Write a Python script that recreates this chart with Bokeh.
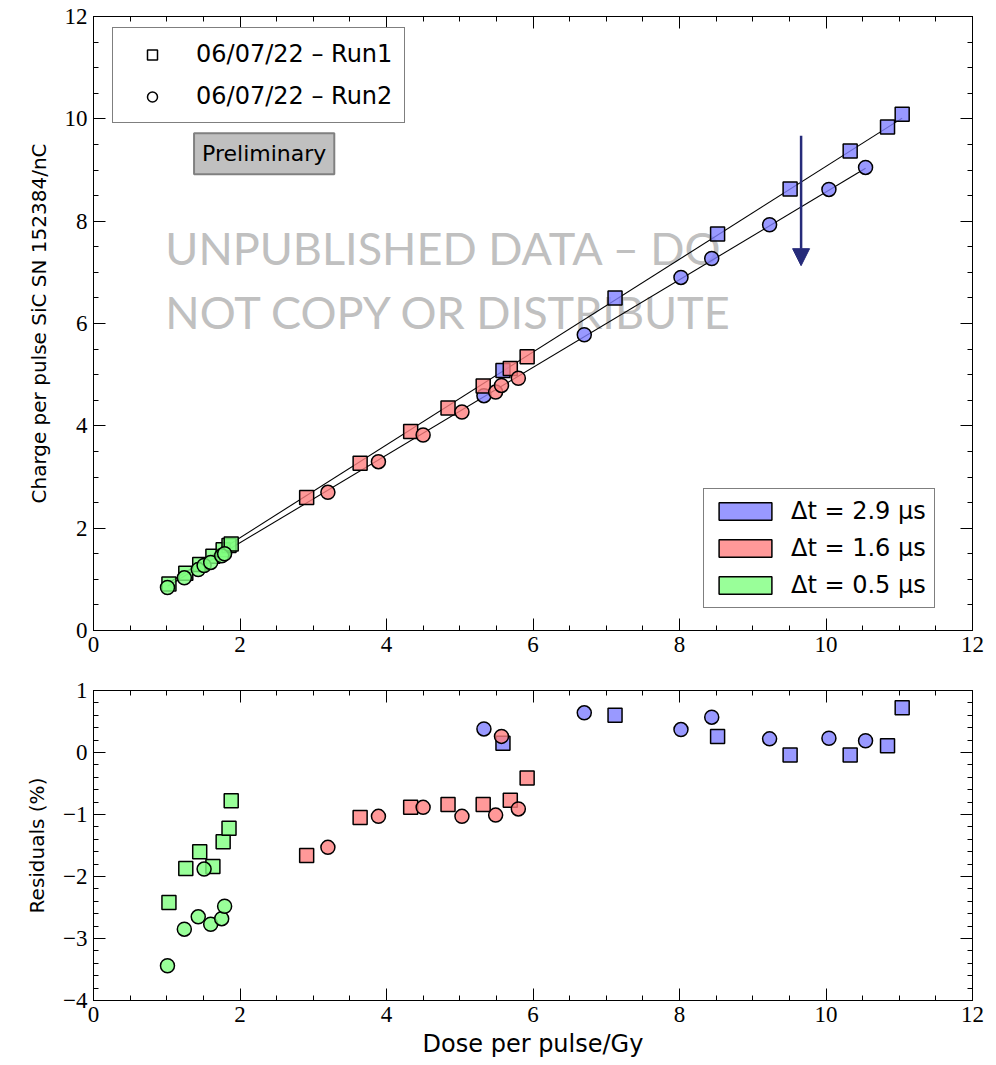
from bokeh.plotting import figure
from bokeh.models import (Legend, LegendItem, LinearAxis, FixedTicker, Label,
                          Arrow, NormalHead, Range1d, CustomLabelingPolicy)
from bokeh.layouts import column
from bokeh.embed import file_html
from bokeh.resources import INLINE

# ---------------- data ----------------
# Run 1 (squares)
run1_blue_dose = [5.59, 7.12, 8.52, 9.51, 10.33, 10.84, 11.04]
run1_blue_charge = [5.08, 6.50, 7.75, 8.63, 9.37, 9.84, 10.09]
run1_blue_resid = [0.15, 0.60, 0.26, -0.04, -0.04, 0.11, 0.72]

run1_red_dose = [2.91, 3.64, 4.33, 4.84, 5.32, 5.69, 5.92]
run1_red_charge = [2.60, 3.27, 3.89, 4.35, 4.78, 5.12, 5.35]
run1_red_resid = [-1.66, -1.05, -0.885, -0.84, -0.84, -0.77, -0.41]

run1_green_dose = [1.03, 1.26, 1.45, 1.63, 1.77, 1.85, 1.88]
run1_green_charge = [0.91, 1.12, 1.29, 1.45, 1.58, 1.66, 1.69]
run1_green_resid = [-2.42, -1.87, -1.60, -1.84, -1.44, -1.22, -0.78]

# Run 2 (circles)
run2_blue_dose = [5.33, 6.70, 8.02, 8.44, 9.23, 10.04, 10.54]
run2_blue_charge = [4.59, 5.78, 6.90, 7.27, 7.93, 8.62, 9.05]
run2_blue_resid = [0.38, 0.64, 0.37, 0.57, 0.22, 0.23, 0.19]

run2_red_dose = [3.20, 3.89, 4.50, 5.03, 5.49, 5.57, 5.80]
run2_red_charge = [2.70, 3.30, 3.82, 4.27, 4.66, 4.79, 4.93]
run2_red_resid = [-1.53, -1.03, -0.885, -1.03, -1.01, 0.26, -0.91]

run2_green_dose = [1.01, 1.24, 1.43, 1.51, 1.60, 1.75, 1.79]
run2_green_charge = [0.84, 1.03, 1.19, 1.27, 1.33, 1.46, 1.50]
run2_green_resid = [-3.44, -2.85, -2.65, -1.88, -2.77, -2.68, -2.48]

# linear fits (charge = slope * dose + intercept)
fit_run1 = (0.907, 0.0)
fit_run2 = (0.857, 0.0)

run_labels = ["06/07/22 \u2013 Run1", "06/07/22 \u2013 Run2"]
dt_labels = ["\u0394t = 2.9 \u00b5s", "\u0394t = 1.6 \u00b5s", "\u0394t = 0.5 \u00b5s"]

x_ticks = [0, 2, 4, 6, 8, 10, 12]
y_ticks_top = [0, 2, 4, 6, 8, 10, 12]
y_ticks_res = [-4, -3, -2, -1, 0, 1]
y_tick_res_labels = ["\u22124", "\u22123", "\u22122", "\u22121", "0", "1"]

watermark = ["UNPUBLISHED DATA \u2013 DO", "NOT COPY OR DISTRIBUTE"]

# annotation placement (data units)
arrow_x, arrow_y0, arrow_y1 = 9.66, 9.67, 7.13
prelim_xy = (2.33, 9.32)
watermark_x, watermark_y = 0.98, [7.48, 6.23]

# ---------------- style ----------------
BLUE, RED, GREEN = "#8080ff", "#ff8080", "#80ff80"
FALPHA = 0.8
TICK_FONT = "Liberation Serif"
TEXT_FONT = "DejaVu Sans"
W = 988
NAN = float("nan")
MSIZE = 14


def style_axes(p, xticks, yticks, y_minor):
    p.xgrid.visible = False
    p.ygrid.visible = False
    p.outline_line_color = "black"
    p.outline_line_width = 1
    for ax in p.xaxis:
        ax.ticker = FixedTicker(ticks=xticks, minor_ticks=[i * 0.5 for i in range(0, 25)])
    for ax in p.yaxis:
        ax.ticker = FixedTicker(ticks=yticks, minor_ticks=y_minor)
    for ax in list(p.xaxis) + list(p.yaxis):
        ax.major_tick_in = 12
        ax.major_tick_out = 0
        ax.minor_tick_in = 5
        ax.minor_tick_out = 0
        ax.axis_line_color = "black"
        ax.major_tick_line_color = "black"
        ax.minor_tick_line_color = "black"
        ax.major_label_text_font = TICK_FONT
        ax.major_label_text_font_size = "23px"
        ax.major_label_text_color = "black"
        ax.axis_label_text_font = TEXT_FONT
        ax.axis_label_text_font_style = "normal"
        ax.axis_label_text_color = "black"
        ax.major_label_standoff = 6
    for ax in p.yaxis:
        ax.axis_label_text_font_size = "20px"
        ax.axis_label_standoff = 11
    for ax in p.xaxis:
        ax.axis_label_text_font_size = "24px"


def add_frame_axes(p, xticks, yticks, y_minor):
    top = LinearAxis(ticker=FixedTicker(ticks=xticks, minor_ticks=[i * 0.5 for i in range(0, 25)]))
    right = LinearAxis(ticker=FixedTicker(ticks=yticks, minor_ticks=y_minor))
    for ax in (top, right):
        ax.major_label_policy = CustomLabelingPolicy(code="return;")
        ax.major_label_standoff = 0
        ax.major_tick_in = 12
        ax.major_tick_out = 0
        ax.minor_tick_in = 5
        ax.minor_tick_out = 0
        ax.axis_line_color = "black"
    p.add_layout(top, "above")
    p.add_layout(right, "right")


# ---------------- top panel ----------------
p1 = figure(width=W, height=668, output_backend="svg", toolbar_location=None,
            x_range=Range1d(0, 12), y_range=Range1d(0, 12),
            min_border_left=93, min_border_right=13, min_border_top=16, min_border_bottom=38)
p1.yaxis.axis_label = "Charge per pulse SiC SN 152384/nC"
style_axes(p1, x_ticks, y_ticks_top, [i * 0.5 for i in range(0, 25)])
add_frame_axes(p1, x_ticks, y_ticks_top, [i * 0.5 for i in range(0, 25)])

for (i, txt) in enumerate(watermark):
    p1.add_layout(Label(x=watermark_x, y=watermark_y[i], text=txt, text_font="Lato",
                        text_font_size="45px", text_color="#c0c0c0", text_baseline="middle",
                        level="underlay"))

for fit, dose_lists in ((fit_run1, [run1_blue_dose, run1_red_dose, run1_green_dose]),
                        (fit_run2, [run2_blue_dose, run2_red_dose, run2_green_dose])):
    allx = [d for lst in dose_lists for d in lst]
    xs = [min(allx), max(allx)]
    p1.line(xs, [fit[0] * x + fit[1] for x in xs], line_color="black", line_width=1.1)

groups = [
    (BLUE, run1_blue_dose, run1_blue_charge, run1_blue_resid, run2_blue_dose, run2_blue_charge, run2_blue_resid),
    (RED, run1_red_dose, run1_red_charge, run1_red_resid, run2_red_dose, run2_red_charge, run2_red_resid),
    (GREEN, run1_green_dose, run1_green_charge, run1_green_resid, run2_green_dose, run2_green_charge, run2_green_resid),
]

for col, d1, c1, r1, d2, c2, r2 in groups:
    p1.scatter(d1, c1, marker="square", size=MSIZE, fill_color=col, fill_alpha=FALPHA,
               line_color="black", line_width=1.5)
    p1.scatter(d2, c2, marker="circle", size=MSIZE, fill_color=col, fill_alpha=FALPHA,
               line_color="black", line_width=1.5)

p1.add_layout(Arrow(end=NormalHead(size=17, fill_color="#262b7a", line_color="#262b7a"),
                    x_start=arrow_x, y_start=arrow_y0, x_end=arrow_x, y_end=arrow_y1,
                    line_color="#262b7a", line_width=2.5))

p1.add_layout(Label(x=prelim_xy[0], y=prelim_xy[1], text="Preliminary", text_font=TEXT_FONT,
                    text_font_size="22px", text_color="black", text_align="center",
                    text_baseline="middle",
                    background_fill_color="#c0c0c0", border_line_color="#808080",
                    border_line_width=2, padding=8))

# legend 1 (runs) -- proxy renderers without visible data
lr1 = p1.scatter(x=[NAN], y=[NAN], marker="square", fill_color="white", line_color="black", line_width=1.5)
lr2 = p1.scatter(x=[NAN], y=[NAN], marker="circle", fill_color="white", line_color="black", line_width=1.5)
leg1 = Legend(items=[LegendItem(label=run_labels[0], renderers=[lr1]),
                     LegendItem(label=run_labels[1], renderers=[lr2])],
              location=(19, 507), label_text_font=TEXT_FONT, label_text_font_size="24px",
              label_text_color="black",
              glyph_width=54, glyph_height=25, label_height=25, label_standoff=17,
              spacing=14, padding=12, border_line_color="black", border_line_width=1,
              background_fill_alpha=1.0, margin=0)
p1.add_layout(leg1)

# legend 2 (pulse widths)
qrs = []
for col in (BLUE, RED, GREEN):
    qrs.append(p1.quad(left=[NAN], right=[NAN], top=[NAN], bottom=[NAN], fill_color=col,
                       fill_alpha=FALPHA, line_color="black", line_width=1.5))
leg2 = Legend(items=[LegendItem(label=dt_labels[i], renderers=[qrs[i]]) for i in range(3)],
              location=(610, 22), label_text_font=TEXT_FONT, label_text_font_size="24px",
              label_text_color="black",
              glyph_width=66, glyph_height=22, label_height=22, label_standoff=13,
              spacing=9, padding=8, border_line_color="black", border_line_width=1.5,
              background_fill_alpha=1.0, margin=0)
p1.add_layout(leg2)

# ---------------- residual panel ----------------
p2 = figure(width=W, height=396, output_backend="svg", toolbar_location=None,
            x_range=Range1d(0, 12), y_range=Range1d(-4, 1),
            min_border_left=93, min_border_right=13, min_border_top=22, min_border_bottom=64)
p2.yaxis.axis_label = "Residuals (%)"
p2.xaxis.axis_label = "Dose per pulse/Gy"
res_minor = [-4 + i * 0.2 for i in range(0, 26)]
style_axes(p2, x_ticks, y_ticks_res, res_minor)
add_frame_axes(p2, x_ticks, y_ticks_res, res_minor)
p2.yaxis[0].major_label_overrides = {t: s for t, s in zip(y_ticks_res, y_tick_res_labels)}
p2.xaxis[0].major_label_standoff = 10
p2.xaxis[0].axis_label_standoff = 20

for col, d1, c1, r1, d2, c2, r2 in groups:
    p2.scatter(d1, r1, marker="square", size=MSIZE, fill_color=col, fill_alpha=FALPHA,
               line_color="black", line_width=1.5)
    p2.scatter(d2, r2, marker="circle", size=MSIZE, fill_color=col, fill_alpha=FALPHA,
               line_color="black", line_width=1.5)

layout = column(p1, p2, spacing=0)
open("out.html", "w").write(file_html(layout, INLINE))
